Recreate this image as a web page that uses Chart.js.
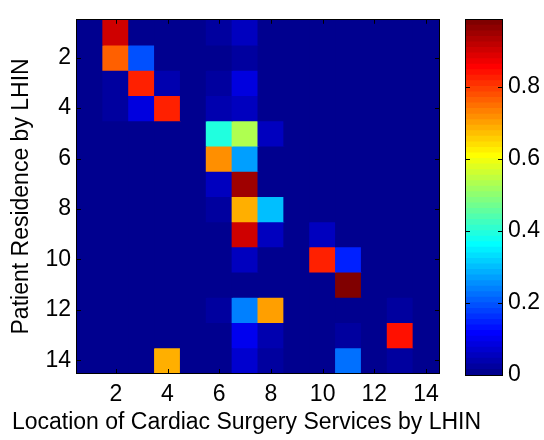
<!DOCTYPE html>
<html>
<head>
<meta charset="utf-8">
<script src="https://cdn.jsdelivr.net/npm/chart.js@4"></script>
<style>
  html, body { margin: 0; padding: 0; background: #fff; }
  #wrap { position: relative; width: 544px; height: 440px; }
  #heat { position: absolute; left: 0; top: 0; }
  #scale { position: absolute; left: 450px; top: 0; }
</style>
</head>
<body>
<div id="wrap">
  <canvas id="heat" width="493" height="440"></canvas>
  <canvas id="scale" width="94" height="440"></canvas>
</div>
<script>
// Location of cardiac surgery services (columns) by patient residence (rows), LHIN 1..14
const locationLabels = ['1','2','3','4','5','6','7','8','9','10','11','12','13','14'];
const residenceTicks = [2, 4, 6, 8, 10, 12, 14];
const colourbarTicks = [0, 0.2, 0.4, 0.6, 0.8];

// Share of each residence LHIN's patients treated in each location LHIN
const row01 = [0, 0.90, 0, 0, 0, 0.02, 0.06, 0, 0, 0, 0, 0, 0, 0];
const row02 = [0, 0.77, 0.20, 0, 0, 0.01, 0.03, 0, 0, 0, 0, 0, 0, 0];
const row03 = [0, 0.02, 0.82, 0.04, 0, 0.02, 0.09, 0, 0, 0, 0, 0, 0, 0];
const row04 = [0, 0.02, 0.09, 0.82, 0, 0.04, 0.06, 0, 0, 0, 0, 0, 0, 0];
const row05 = [0, 0, 0, 0, 0, 0.40, 0.53, 0.06, 0, 0, 0, 0, 0, 0];
const row06 = [0, 0, 0, 0, 0, 0.72, 0.27, 0, 0, 0, 0, 0, 0, 0];
const row07 = [0, 0, 0, 0, 0, 0.05, 0.95, 0, 0, 0, 0, 0, 0, 0];
const row08 = [0, 0, 0, 0, 0, 0.03, 0.69, 0.30, 0, 0, 0, 0, 0, 0];
const row09 = [0, 0, 0, 0, 0, 0, 0.90, 0.05, 0, 0.05, 0, 0, 0, 0];
const row10 = [0, 0, 0, 0, 0, 0, 0.05, 0, 0, 0.82, 0.15, 0, 0, 0];
const row11 = [0, 0, 0, 0, 0, 0, 0, 0, 0, 0, 0.986, 0, 0, 0];
const row12 = [0, 0, 0, 0, 0, 0.03, 0.24, 0.70, 0, 0, 0, 0, 0.03, 0];
const row13 = [0, 0, 0, 0, 0, 0, 0.10, 0.04, 0, 0, 0.03, 0, 0.84, 0];
const row14 = [0, 0, 0, 0.69, 0, 0, 0.07, 0.02, 0, 0, 0.23, 0, 0.03, 0];
const residenceRows = [row01, row02, row03, row04, row05, row06, row07,
                       row08, row09, row10, row11, row12, row13, row14];

// 64-level jet colour map
function jetMap(m) {
  const n = Math.ceil(m / 4);
  const u = [];
  for (let i = 1; i <= n; i++) u.push(i / n);
  for (let i = 1; i < n; i++) u.push(1);
  for (let i = n; i >= 1; i--) u.push(i / n);
  const off = Math.ceil(n / 2) - (m % 4 === 1 ? 1 : 0);
  const rgb = Array.from({ length: m }, () => [0, 0, 0]);
  u.forEach((val, k) => {
    const g = off + k + 1;
    const r = g + n;
    const b = g - n;
    if (r >= 1 && r <= m) rgb[r - 1][0] = val;
    if (g >= 1 && g <= m) rgb[g - 1][1] = val;
    if (b >= 1 && b <= m) rgb[b - 1][2] = val;
  });
  return rgb.map(c => `rgb(${Math.round(c[0] * 255)},${Math.round(c[1] * 255)},${Math.round(c[2] * 255)})`);
}
const jet = jetMap(64);
const cMax = Math.max(...residenceRows.flat());
function colourOf(v) {
  const idx = Math.min(63, Math.max(0, Math.floor(v / cMax * 64)));
  return jet[idx];
}

const FONT = { family: "'Liberation Sans', Arial, sans-serif", size: 23 };

// Inward tick marks and a closed frame around the plotting area
const framePlugin = {
  id: 'frame',
  afterDatasetsDraw(chart, args, opts) {
    const { ctx, chartArea: a } = chart;
    const L = 4;
    ctx.save();
    ctx.strokeStyle = '#000';
    ctx.lineWidth = 1;
    ctx.beginPath();
    (opts.scales || []).forEach(id => {
      const s = chart.scales[id];
      s.ticks.forEach((t, i) => {
        if (t.label === '' || t.label === undefined) return;
        const p = Math.round(s.getPixelForTick(i)) + 0.5;
        if (s.isHorizontal()) {
          ctx.moveTo(p, a.bottom); ctx.lineTo(p, a.bottom - L);
          ctx.moveTo(p, a.top); ctx.lineTo(p, a.top + L);
        } else {
          ctx.moveTo(a.left, p); ctx.lineTo(a.left + L, p);
          ctx.moveTo(a.right, p); ctx.lineTo(a.right - L, p);
        }
      });
    });
    ctx.stroke();
    ctx.strokeRect(Math.round(a.left) - 0.5, Math.round(a.top) - 0.5,
                   Math.round(a.right - a.left) + 1, Math.round(a.bottom - a.top) + 1);
    ctx.restore();
  }
};

// Heat map: one floating-bar dataset per residence row
const heatDatasets = residenceRows.map((row, r) => ({
  label: 'Residence ' + (r + 1),
  data: row.map(() => [r + 0.5, r + 1.5]),
  backgroundColor: row.map(colourOf),
  borderWidth: 0,
  inflateAmount: 0.5,
  grouped: false,
  barPercentage: 1,
  categoryPercentage: 1
}));

new Chart(document.getElementById('heat'), {
  type: 'bar',
  data: { labels: locationLabels, datasets: heatDatasets },
  options: {
    responsive: false,
    animation: false,
    events: [],
    layout: { padding: { left: 0, right: 0, top: 11, bottom: 0 } },
    plugins: {
      legend: { display: false },
      tooltip: { enabled: false },
      title: {
        display: true, position: 'bottom', align: 'center',
        text: 'Location of Cardiac Surgery Services by LHIN',
        color: '#000', font: { ...FONT, weight: 'normal' }, padding: { top: 0, bottom: 4 }
      },
      frame: { scales: ['x', 'y'] }
    },
    scales: {
      x: {
        type: 'category',
        grid: { display: false, drawTicks: false },
        border: { display: false },
        ticks: {
          autoSkip: false, maxRotation: 0, padding: 8, color: '#000', font: FONT,
          callback: (v, i) => ((i + 1) % 2 === 0 ? locationLabels[i] : '')
        },
        afterFit: s => { s.height = 35.4; }
      },
      y: {
        type: 'linear', min: 0.5, max: 14.5, reverse: true,
        grid: { display: false, drawTicks: false },
        border: { display: false },
        afterBuildTicks: s => { s.ticks = residenceTicks.map(v => ({ value: v })); },
        ticks: { padding: 6, color: '#000', font: FONT, callback: v => String(v) },
        title: {
          display: true, text: 'Patient Residence by LHIN',
          color: '#000', font: FONT, padding: { top: 8, bottom: 0 }
        },
        afterFit: s => { s.width = 77; }
      },
      // empty margin on the right, where the colour bar sits
      gutter: {
        type: 'linear', position: 'right', display: true,
        grid: { display: false, drawTicks: false },
        border: { display: false },
        ticks: { display: false },
        afterFit: s => { s.width = 54; }
      }
    }
  },
  plugins: [framePlugin]
});

// Colour bar: 64 stacked bands on a value axis
const bandDatasets = jet.map((c, i) => ({
  label: 'band ' + i,
  data: [[i * cMax / 64, (i + 1) * cMax / 64]],
  backgroundColor: c,
  borderWidth: 0,
  inflateAmount: 0.5,
  grouped: false,
  barPercentage: 1,
  categoryPercentage: 1
}));

new Chart(document.getElementById('scale'), {
  type: 'bar',
  data: { labels: [''], datasets: bandDatasets },
  options: {
    responsive: false,
    animation: false,
    events: [],
    layout: { padding: { left: 16, right: 0, top: 12, bottom: 65 } },
    plugins: {
      legend: { display: false },
      tooltip: { enabled: false },
      frame: { scales: ['y'] }
    },
    scales: {
      x: { display: false },
      y: {
        type: 'linear', position: 'right', min: 0, max: cMax,
        grid: { display: false, drawTicks: false },
        border: { display: false },
        afterBuildTicks: s => { s.ticks = colourbarTicks.map(v => ({ value: v })); },
        ticks: { padding: 6, color: '#000', font: FONT, callback: v => String(Math.round(v * 10) / 10) },
        afterFit: s => { s.width = 42; }
      }
    }
  },
  plugins: [framePlugin]
});
</script>
</body>
</html>
